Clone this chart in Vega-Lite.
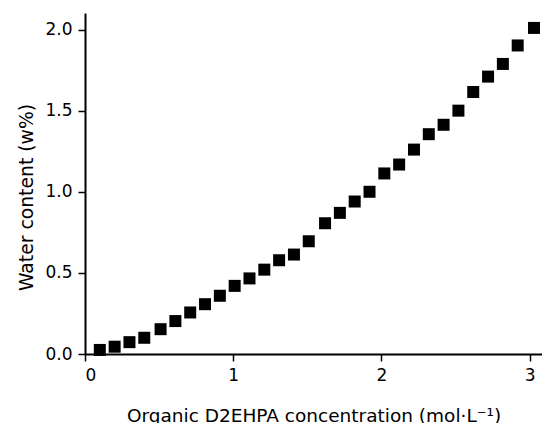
{
  "$schema": "https://vega.github.io/schema/vega-lite/v6.json",
  "autosize": {"type": "none"},
  "padding": {"left": 85, "top": 13, "right": 0, "bottom": 69},
  "width": 457,
  "height": 341,
  "background": "white",
  "config": {
    "view": {"stroke": null},
    "font": "DejaVu Sans",
    "axis": {
      "grid": false,
      "domainColor": "black",
      "domainWidth": 2,
      "tickColor": "black",
      "tickWidth": 1.5,
      "tickSize": 7,
      "labelPadding": 6,
      "labelColor": "black",
      "labelFont": "DejaVu Sans",
      "labelFontSize": 17,
      "titleColor": "black",
      "titleFont": "DejaVu Sans",
      "titleFontWeight": "normal"
    }
  },
  "data": {
    "values": [
      {"c": 0.10, "w": 0.025},
      {"c": 0.20, "w": 0.045},
      {"c": 0.30, "w": 0.073},
      {"c": 0.40, "w": 0.100},
      {"c": 0.51, "w": 0.153},
      {"c": 0.61, "w": 0.203},
      {"c": 0.71, "w": 0.256},
      {"c": 0.81, "w": 0.307},
      {"c": 0.91, "w": 0.359},
      {"c": 1.01, "w": 0.420},
      {"c": 1.11, "w": 0.466},
      {"c": 1.21, "w": 0.520},
      {"c": 1.31, "w": 0.578},
      {"c": 1.41, "w": 0.613},
      {"c": 1.51, "w": 0.695},
      {"c": 1.62, "w": 0.806},
      {"c": 1.72, "w": 0.870},
      {"c": 1.82, "w": 0.940},
      {"c": 1.92, "w": 1.000},
      {"c": 2.02, "w": 1.113},
      {"c": 2.12, "w": 1.168},
      {"c": 2.22, "w": 1.260},
      {"c": 2.32, "w": 1.355},
      {"c": 2.42, "w": 1.413},
      {"c": 2.52, "w": 1.500},
      {"c": 2.62, "w": 1.615},
      {"c": 2.72, "w": 1.710},
      {"c": 2.82, "w": 1.788},
      {"c": 2.92, "w": 1.902},
      {"c": 3.03, "w": 2.010}
    ]
  },
  "mark": {"type": "point", "shape": "square", "filled": true, "size": 144, "color": "black", "opacity": 1, "strokeWidth": 0},
  "encoding": {
    "x": {
      "field": "c",
      "type": "quantitative",
      "scale": {"domain": [0, 3.084], "nice": false, "zero": false},
      "axis": {
        "values": [0, 1, 2, 3],
        "format": "d",
        "title": "Organic D2EHPA concentration (mol·L⁻¹)",
        "titleFontSize": 18.5,
        "titleBaseline": "alphabetic",
        "titleY": 67
      }
    },
    "y": {
      "field": "w",
      "type": "quantitative",
      "scale": {"domain": [0, 2.102], "nice": false, "zero": false},
      "axis": {
        "values": [0, 0.5, 1, 1.5, 2],
        "format": ".1f",
        "title": "Water content (w%)",
        "titleFontSize": 18.8,
        "titleBaseline": "alphabetic",
        "titleAngle": -90,
        "titleX": -53,
        "titleY": 184,
        "titleAlign": "center"
      }
    }
  }
}
